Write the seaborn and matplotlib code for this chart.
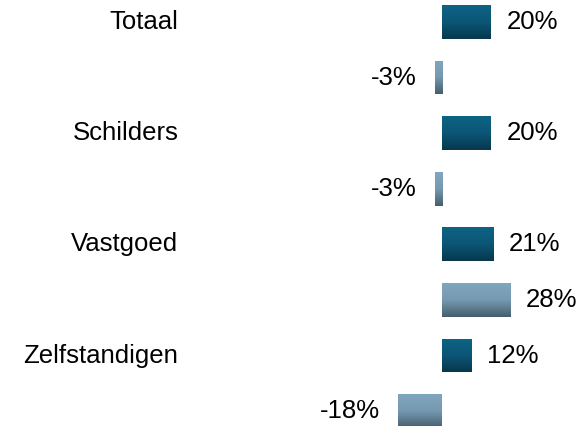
import matplotlib
matplotlib.use("Agg")
import matplotlib.pyplot as plt
import seaborn as sns
import numpy as np
import pandas as pd
from matplotlib.colors import LinearSegmentedColormap

categories = ["Totaal", "Schilders", "Vastgoed", "Zelfstandigen"]
series_a = [20, 20, 21, 12]     # dark teal bars
series_b = [-3, -3, 28, -18]    # grey-blue bars
value_labels_a = ["20%", "20%", "21%", "12%"]
value_labels_b = ["-3%", "-3%", "28%", "-18%"]

rows = []
for i, c in enumerate(categories):
    rows.append({"pos": str(2 * i), "value": series_a[i], "series": "A", "label": value_labels_a[i], "cat": c})
    rows.append({"pos": str(2 * i + 1), "value": series_b[i], "series": "B", "label": value_labels_b[i], "cat": ""})
df = pd.DataFrame(rows)

sns.set_style("white")
plt.rcParams["font.family"] = ["Liberation Sans", "DejaVu Sans"]

fig = plt.figure(figsize=(5.83, 4.26), dpi=100)
ax = fig.add_axes([0, 0, 1, 1])

colors = {"A": "#0b5573", "B": "#7398b0"}
sns.barplot(data=df, x="value", y="pos", hue="series", palette=colors,
            dodge=False, width=0.61, orient="h", ax=ax, legend=False,
            order=[str(k) for k in range(8)], linewidth=0)

# gradient overlay on each bar
grad_a = LinearSegmentedColormap.from_list("ga", ["#0e6384", "#0b5676", "#07384d"])
grad_b = LinearSegmentedColormap.from_list("gb", ["#80a6bd", "#7599b1", "#465e6e"])
for p in list(ax.patches):
    x0, y0 = p.get_x(), p.get_y()
    w, h = p.get_width(), p.get_height()
    if w == 0:
        continue
    fc = p.get_facecolor()
    cmap = grad_a if fc[2] < 0.6 else grad_b
    grad = np.linspace(0, 1, 64).reshape(-1, 1)
    # y axis inverted: y0 is top in display when ylim inverted
    im = ax.imshow(grad, extent=[x0, x0 + w, y0 + h, y0], cmap=cmap,
                   aspect="auto", origin="upper", zorder=p.get_zorder() + 0.1)
    im.set_clip_path(p)

fs = 18.5
for k, r in df.iterrows():
    y = int(r["pos"])
    v = r["value"]
    if v >= 0:
        ax.text(v + 6.5, y, r["label"], ha="left", va="center", fontsize=fs, color="black")
    else:
        ax.text(v - 7.5, y, r["label"], ha="right", va="center", fontsize=fs, color="black")
    if r["cat"]:
        ax.text(-108, y, r["cat"], ha="right", va="center", fontsize=fs, color="black")

ax.set_xlim(-181.1, 57.8)
ax.set_ylim(7.268, -0.394)
ax.axis("off")
fig.savefig("out.png", dpi=100)
